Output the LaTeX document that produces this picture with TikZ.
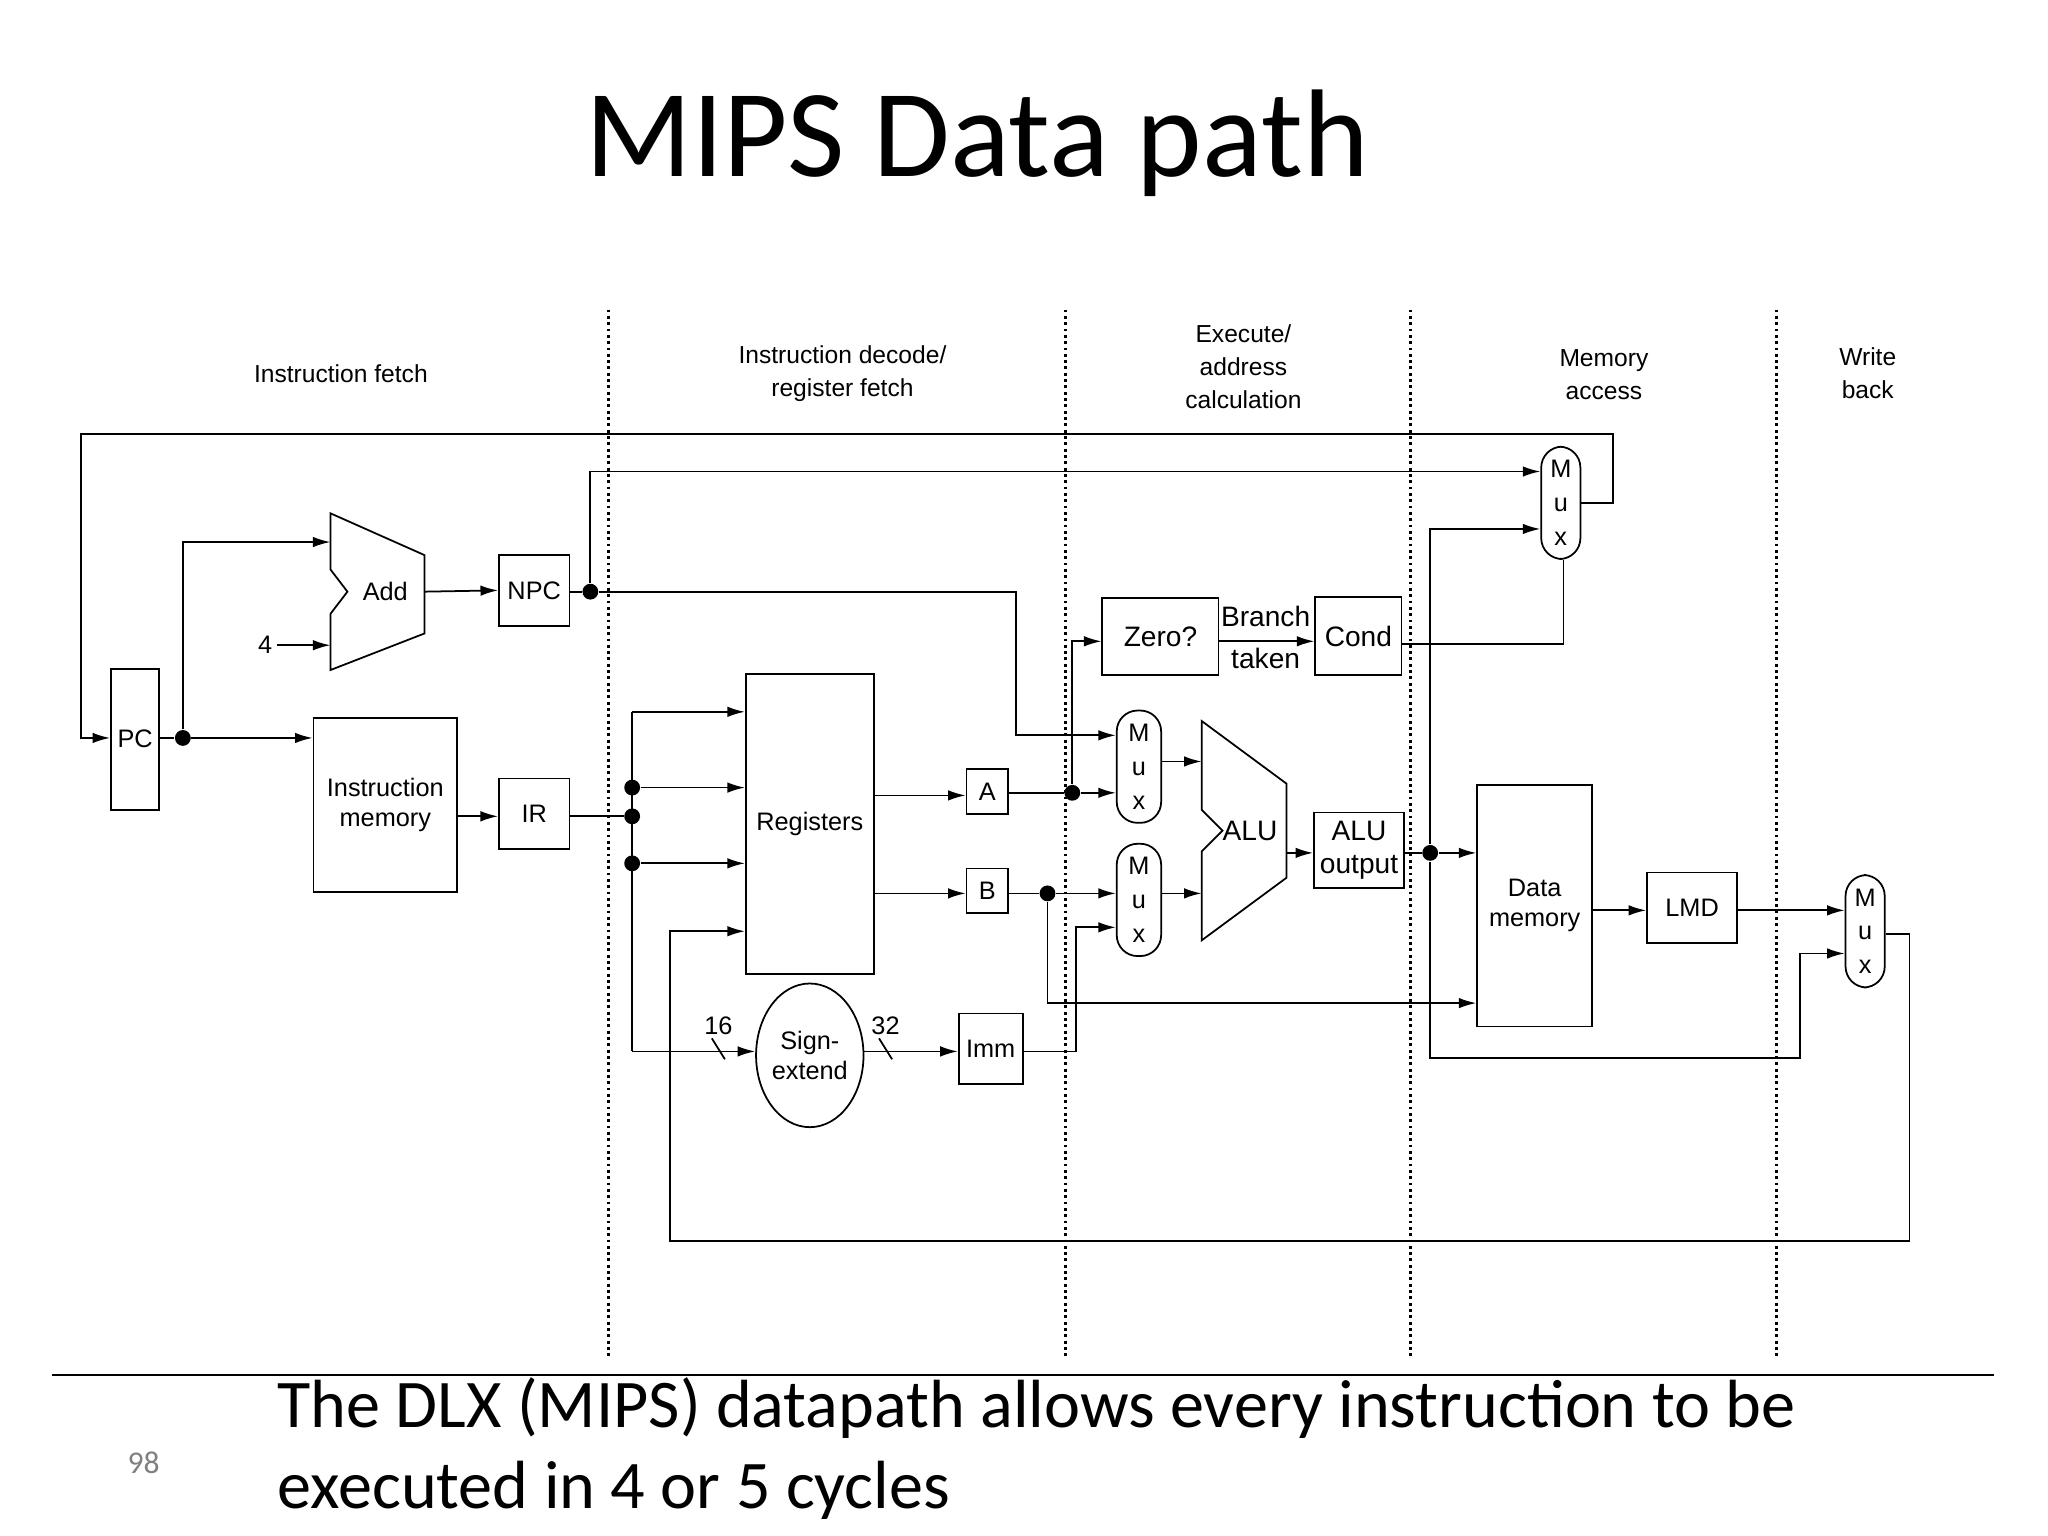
\documentclass[tikz,border=0pt]{standalone}
\usepackage{fontspec}
\setmainfont{Liberation Sans}
\newfontfamily\titlefont{Carlito}
\usetikzlibrary{arrows.meta,calc,shapes.geometric}
\def\u{0.01306cm}
\tikzset{
  x=0.01306cm, y=-0.01306cm,
  every node/.style={font=\fontsize{7.2}{8.6}\selectfont, inner sep=0pt},
  box/.style={draw, line width=0.5pt, align=center},
  mux/.style={draw, line width=0.5pt, align=center, minimum width=34*\u,
    minimum height=86*\u, rounded corners=16*\u, font=\fontsize{7.2}{9.6}\selectfont},
  stage/.style={align=center, font=\fontsize{7}{9.4}\selectfont},
  wire/.style={line width=0.5pt},
  arr/.style={wire, -{Latex[length=5pt,width=3pt]}},
  dot/.style={circle, fill, minimum size=4.5pt},
  sep/.style={line width=0.8pt, densely dotted}
}
\begin{document}
\begin{tikzpicture}
\useasboundingbox (0,0) rectangle (1568,1176);

% title and caption
\node[font=\titlefont\fontsize{35.5}{40}\selectfont] (title) at (748,110) {MIPS Data path};
\draw[line width=0.6pt] (40,1053) -- (1527,1053);
\node[anchor=north west, align=left, font=\titlefont\fontsize{19.4}{23}\selectfont] (caption) at (212,1054)
  {The DLX (MIPS) datapath allows every instruction to be\\executed in 4 or 5 cycles};
\node[font=\titlefont\fontsize{9}{10}\selectfont, text=gray] (page) at (110,1120) {98};

% stage separators and labels
\foreach \sx in {466,816,1080,1360} \draw[sep] (\sx,237) -- (\sx,1040);
\node[stage] (s1) at (261,286) {Instruction fetch};
\node[stage] (s2) at (645,286) {Instruction decode/\\register fetch};
\node[stage] (s3) at (952,281) {Execute/\\address\\calculation};
\node[stage] (s4) at (1228,287) {Memory\\access};
\node[stage] (s5) at (1430,286) {Write\\back};

% boxes
\node[box, minimum width=37*\u, minimum height=108*\u] (pc) at (103.5,566) {PC};
\node[box, minimum width=110*\u, minimum height=133*\u] (im) at (295,616.5) {Instruction\\memory};
\node[box, minimum width=54*\u, minimum height=54*\u] (npc) at (409,452) {NPC};
\node[box, minimum width=54*\u, minimum height=54*\u] (ir) at (409,623) {IR};
\node[box, minimum width=98*\u, minimum height=230*\u] (regs) at (620,631) {Registers};
\node[draw, ellipse, line width=0.5pt, minimum width=72*\u, minimum height=110*\u, align=center] (sext) at (620,808) {Sign-\\extend};
\node[box, minimum width=32*\u, minimum height=34*\u] (a) at (756,606) {A};
\node[box, minimum width=32*\u, minimum height=34*\u] (b) at (756,682) {B};
\node[box, minimum width=49*\u, minimum height=54*\u] (imm) at (758.5,803) {Imm};
\node[box, minimum width=89*\u, minimum height=59*\u, font=\fontsize{8}{9}\selectfont] (zero) at (888.5,487.5) {Zero?};
\node[box, minimum width=66*\u, minimum height=60*\u, font=\fontsize{8}{9}\selectfont] (cond) at (1040,487) {Cond};
\node[box, minimum width=69*\u, minimum height=58*\u, font=\fontsize{8}{9.5}\selectfont] (aluo) at (1040.5,651) {ALU\\output};
\node[box, minimum width=88*\u, minimum height=185*\u] (dm) at (1175,693.5) {Data\\memory};
\node[box, minimum width=69*\u, minimum height=54*\u] (lmd) at (1295.5,695) {LMD};

% muxes
\node[mux] (m1) at (872,587) {M\\u\\x};
\node[mux] (m2) at (872,689) {M\\u\\x};
\node[mux, minimum width=30*\u] (m3) at (1195,385) {M\\u\\x};
\node[mux, minimum width=30*\u] (m4) at (1428,713) {M\\u\\x};

% adder and ALU
\draw[wire] (253,393) -- (325,425) -- (325,485) -- (253,513) -- (253,470) -- (266,453) -- (253,436) -- cycle;
\node (add) at (295,453) {Add};
\draw[wire] (920,552) -- (985,600) -- (985,672) -- (920,720) -- (920,652) -- (936,636) -- (920,620) -- cycle;
\node[font=\fontsize{8}{9}\selectfont] (alu) at (957,636) {ALU};

% fetch
\coordinate (loop) at (1235,332);
\draw[arr] (m3.east) -- (1235,385) -- (loop) -- (62,332) -- (62,565) -- (pc.west |- 0,565);
\node[dot] (d1) at (140,565) {};
\draw[wire] (pc.east |- 0,565) -- (d1);
\draw[arr] (d1) -- (im.west |- 0,565);
\draw[arr] (d1) -- (140,415) -- (253,415);
\node (four) at (203,494) {4};
\draw[arr] (four.east) ++(3,0) -- (253,494);
\draw[arr] (325,453) -- (npc.west);
\draw[arr] (im.east |- 0,625) -- (ir.west |- 0,625);

% NPC
\node[dot] (d2) at (452,453) {};
\draw[wire] (npc.east |- 0,453) -- (d2);
\draw[arr] (d2) -- (452,361) -- (m3.west |- 0,361);
\draw[arr] (d2) -- (778,453) -- (778,563) -- (m1.west |- 0,563);

% decode
\node[dot] (d3) at (484,625) {};
\node[dot] (d4) at (484,603) {};
\node[dot] (d5) at (484,661) {};
\draw[wire] (ir.east |- 0,625) -- (d3);
\draw[wire] (484,545) -- (484,805);
\draw[arr] (484,545) -- (regs.west |- 0,545);
\draw[arr] (d4) -- (regs.west |- 0,603);
\draw[arr] (d5) -- (regs.west |- 0,661);
\draw[arr] (484,805) -- (sext.west |- 0,805);
\draw[wire] (545,795) -- (555,811);
\node (w16) at (550,785) {16};
\draw[arr] (sext.east |- 0,805) -- (imm.west |- 0,805);
\draw[wire] (673,795) -- (683,811);
\node (w32) at (678,785) {32};
\draw[arr] (regs.east |- 0,609) -- (a.west |- 0,609);
\draw[arr] (regs.east |- 0,684) -- (b.west |- 0,684);

% execute
\node[dot] (d6) at (821,607) {};
\draw[wire] (a.east |- 0,607) -- (d6);
\draw[arr] (d6) -- (m1.west |- 0,607);
\draw[arr] (d6) -- (821,491) -- (zero.west |- 0,491);
\node[dot] (d7) at (802,684) {};
\draw[wire] (b.east |- 0,684) -- (d7);
\draw[arr] (d7) -- (m2.west |- 0,684);
\draw[arr] (d7) -- (802,768) -- (dm.west |- 0,768);
\draw[arr] (imm.east |- 0,805) -- (824,805) -- (824,710) -- (m2.west |- 0,710);
\draw[arr] (m1.east |- 0,583) -- (920,583);
\draw[arr] (m2.east |- 0,684) -- (920,684);
\draw[arr] (985,653) -- (aluo.west |- 0,653);
\draw[arr] (zero.east |- 0,491) -- (cond.west |- 0,491);
\node[font=\fontsize{8}{9}\selectfont] (br) at (969,472) {Branch};
\node[font=\fontsize{8}{9}\selectfont] (tk) at (969,504) {taken};

% memory
\node[dot] (d8) at (1095,653) {};
\draw[wire] (aluo.east |- 0,653) -- (d8);
\draw[arr] (d8) -- (dm.west |- 0,653);
\draw[arr] (d8) -- (1095,405) -- (m3.west |- 0,405);
\draw[arr] (d8) -- (1095,810) -- (1378,810) -- (1378,730) -- (m4.west |- 0,730);
\draw[wire] (cond.east |- 0,493) -- (1197,493) -- (m3.south -| 1197,0);
\draw[arr] (dm.east |- 0,697) -- (lmd.west |- 0,697);
\draw[arr] (lmd.east |- 0,697) -- (m4.west |- 0,697);

% write back
\draw[arr] (m4.east |- 0,715) -- (1462,715) -- (1462,950) -- (513,950) -- (513,713) -- (regs.west |- 0,713);
\end{tikzpicture}
\end{document}
